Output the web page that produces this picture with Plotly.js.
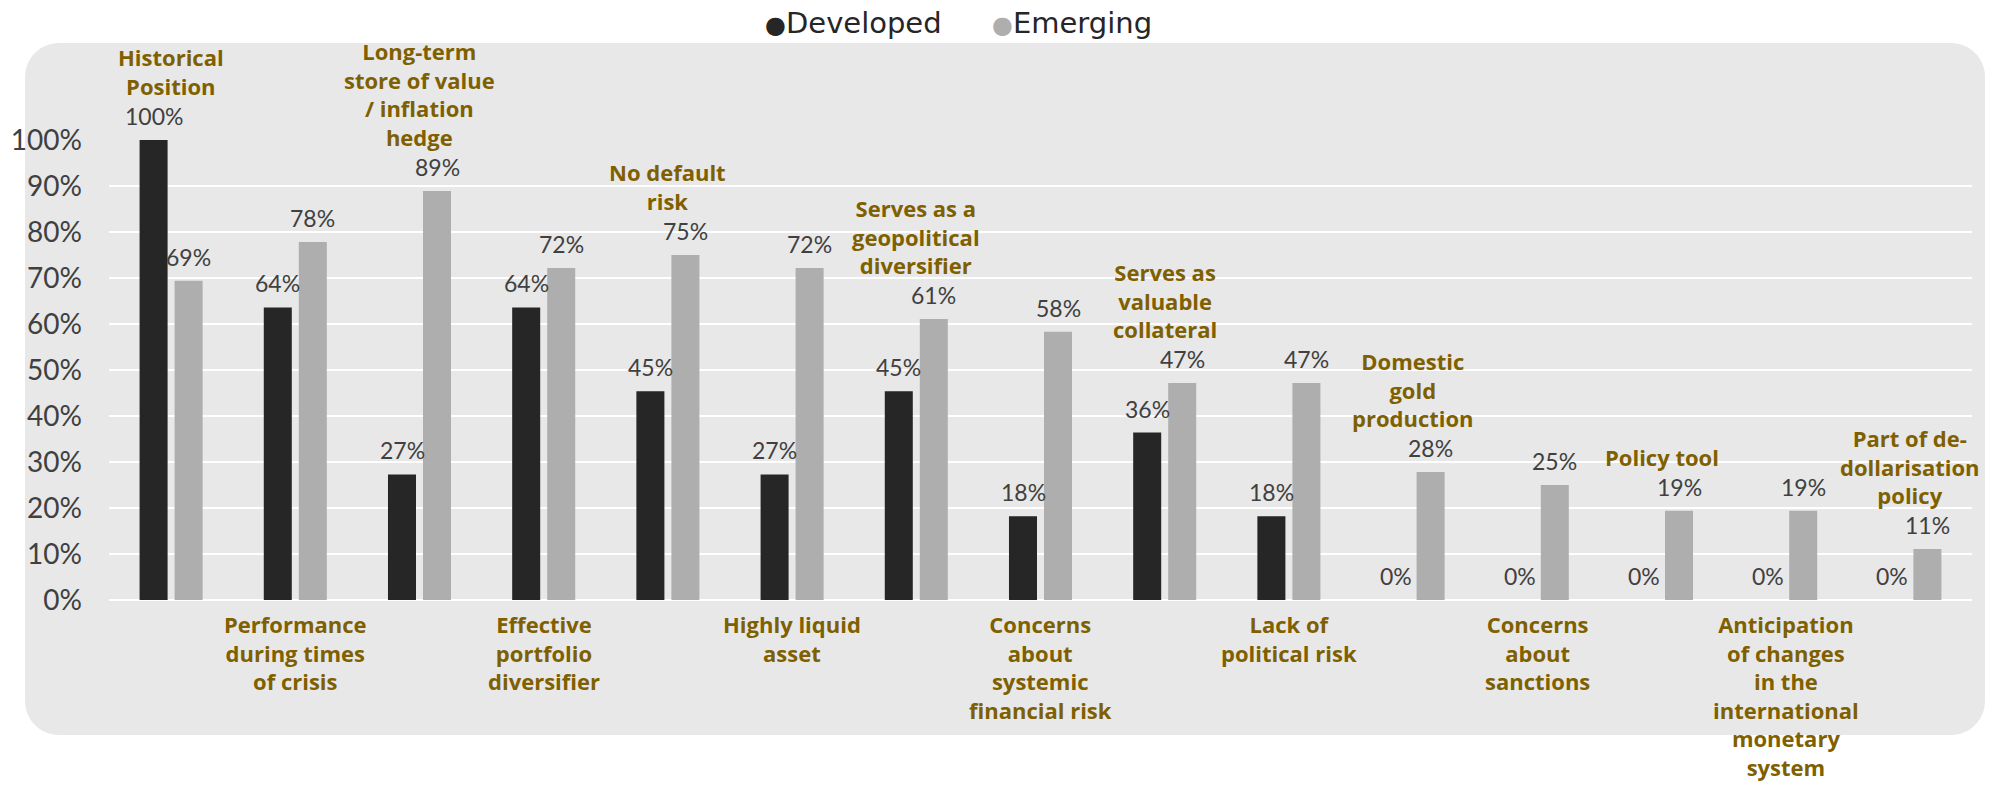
<!DOCTYPE html>
<html><head><meta charset="utf-8">
<script src="https://cdn.plot.ly/plotly-3.0.1.min.js"></script>
<style>html,body{margin:0;padding:0;background:#fff;}</style>
</head><body><div id="chart" style="width:2013px;height:786px;"></div>
<script>
const categories = ["Historical Position", "Performance during times of crisis", "Long-term store of value / inflation hedge", "Effective portfolio diversifier", "No default risk", "Highly liquid asset", "Serves as a geopolitical diversifier", "Concerns about systemic financial risk", "Serves as valuable collateral", "Lack of political risk", "Domestic gold production", "Concerns about sanctions", "Policy tool", "Anticipation of changes in the international monetary system", "Part of de-dollarisation policy"];
const categoryLabels = ["Historical<br>Position", "Performance<br>during times<br>of crisis", "Long-term<br>store of value<br>/ inflation<br>hedge", "Effective<br>portfolio<br>diversifier", "No default<br>risk", "Highly liquid<br>asset", "Serves as a<br>geopolitical<br>diversifier", "Concerns<br>about<br>systemic<br>financial risk", "Serves as<br>valuable<br>collateral", "Lack of<br>political risk", "Domestic<br>gold<br>production", "Concerns<br>about<br>sanctions", "Policy tool", "Anticipation<br>of changes<br>in the<br>international<br>monetary<br>system", "Part of de-<br>dollarisation<br>policy"];
const labelAbove = [true, false, true, false, true, false, true, false, true, false, true, false, true, false, true];
const developed = [1.00, 0.636, 0.273, 0.636, 0.454, 0.273, 0.454, 0.182, 0.364, 0.182, 0, 0, 0, 0, 0];
const emerging = [0.694, 0.778, 0.889, 0.722, 0.75, 0.722, 0.611, 0.583, 0.472, 0.472, 0.278, 0.25, 0.194, 0.194, 0.111];
const seriesNames = ["Developed", "Emerging"];
const yTickVals = [0, 0.1, 0.2, 0.3, 0.4, 0.5, 0.6, 0.7, 0.8, 0.9, 1.0];
const yTickText = ["0%", "10%", "20%", "30%", "40%", "50%", "60%", "70%", "80%", "90%", "100%"];

const REG = '"Century Gothic", Lato, "DejaVu Sans", sans-serif';
const LEG = '"Century Gothic", "DejaVu Sans", sans-serif';
const BOLD = '"Century Gothic", "Open Sans", sans-serif';
const colDev = '#262626', colEmg = '#AEAEAE', colLabel = '#7F6000', colText = '#404040';

// plot area in pixels
const L = 109, T = 140, W = 1863, H = 460, FW = 2013, FH = 786;
const px = x => (x - L) / W;
const py = y => (T + H - y) / H;
const BAR_OFFSET = 17.5; // half distance between the two bars of a group (px)

function roundRect(x0, y0, x1, y1, r) {
  const k = 0.5523 * r;
  const P = (x, y) => px(x) + ',' + py(y);
  return 'M' + P(x0 + r, y0) +
    ' L' + P(x1 - r, y0) +
    ' C' + P(x1 - r + k, y0) + ' ' + P(x1, y0 + r - k) + ' ' + P(x1, y0 + r) +
    ' L' + P(x1, y1 - r) +
    ' C' + P(x1, y1 - r + k) + ' ' + P(x1 - r + k, y1) + ' ' + P(x1 - r, y1) +
    ' L' + P(x0 + r, y1) +
    ' C' + P(x0 + r - k, y1) + ' ' + P(x0, y1 - r + k) + ' ' + P(x0, y1 - r) +
    ' L' + P(x0, y0 + r) +
    ' C' + P(x0, y0 + r - k) + ' ' + P(x0 + r - k, y0) + ' ' + P(x0 + r, y0) + ' Z';
}

function barTrace(name, values, color) {
  return {
    type: 'bar', name: name, x: categories, y: values,
    marker: {color: color, line: {width: 0}},
    hovertemplate: '%{x}: %{y:.0%}<extra>' + name + '</extra>', showlegend: false
  };
}

const traces = [barTrace(seriesNames[0], developed, colDev), barTrace(seriesNames[1], emerging, colEmg)];

const fmtPct = v => Math.round(v * 100) + '%';
const annotations = [];
// value labels above each bar
[developed, emerging].forEach((vals, s) => {
  vals.forEach((v, i) => {
    annotations.push({
      x: categories[i], y: v, xref: 'x', yref: 'y',
      xshift: s === 0 ? -BAR_OFFSET : BAR_OFFSET, yshift: 8,
      xanchor: 'center', yanchor: 'bottom', showarrow: false,
      text: fmtPct(v), font: {family: REG, size: 23, color: colText}
    });
  });
});
// category labels, alternating above the group / below the axis
categories.forEach((c, i) => {
  const above = labelAbove[i];
  annotations.push({
    x: c, xref: 'x', yref: 'y',
    y: above ? Math.max(developed[i], emerging[i]) : 0,
    yanchor: above ? 'bottom' : 'top', xanchor: 'center',
    yshift: above ? 37 : -7,
    text: categoryLabels[i], showarrow: false, align: 'center',
    font: {family: BOLD, size: 22, color: colLabel, weight: 700}
  });
});
// legend
annotations.push({
  xref: 'paper', yref: 'paper', x: px(763), y: py(23), xanchor: 'left', yanchor: 'middle',
  showarrow: false, text: '<span style="color:' + colDev + ';font-size:24px">●</span>' + seriesNames[0],
  font: {family: LEG, size: 29, color: colDev}
});
annotations.push({
  xref: 'paper', yref: 'paper', x: px(990), y: py(23), xanchor: 'left', yanchor: 'middle',
  showarrow: false, text: '<span style="color:' + colEmg + ';font-size:24px">●</span>' + seriesNames[1],
  font: {family: LEG, size: 29, color: colDev}
});

const layout = {
  width: FW, height: FH,
  margin: {l: L, r: FW - L - W, t: T, b: FH - T - H, pad: 0},
  paper_bgcolor: '#FFFFFF', plot_bgcolor: 'rgba(0,0,0,0)',
  barmode: 'group', bargap: 0.436, bargroupgap: 0.2,
  showlegend: false,
  xaxis: {type: 'category', range: [-0.5, 14.5], showticklabels: false, showgrid: false,
          zeroline: false, showline: false, ticks: '', fixedrange: true},
  yaxis: {range: [0, 1], tickvals: yTickVals, ticktext: yTickText, showgrid: true,
          gridcolor: '#FFFFFF', gridwidth: 2, zeroline: true, zerolinecolor: '#FFFFFF',
          zerolinewidth: 2, showline: false, ticks: '', ticklabelstandoff: 26,
          tickfont: {family: REG, size: 28, color: colText}, fixedrange: true},
  shapes: [{type: 'path', xref: 'paper', yref: 'paper', path: roundRect(25, 43, 1985, 735, 34),
            fillcolor: '#E8E8E8', line: {width: 0}, layer: 'below'}],
  annotations: annotations
};

Plotly.newPlot('chart', traces, layout, {displayModeBar: false, staticPlot: true});
</script></body></html>
